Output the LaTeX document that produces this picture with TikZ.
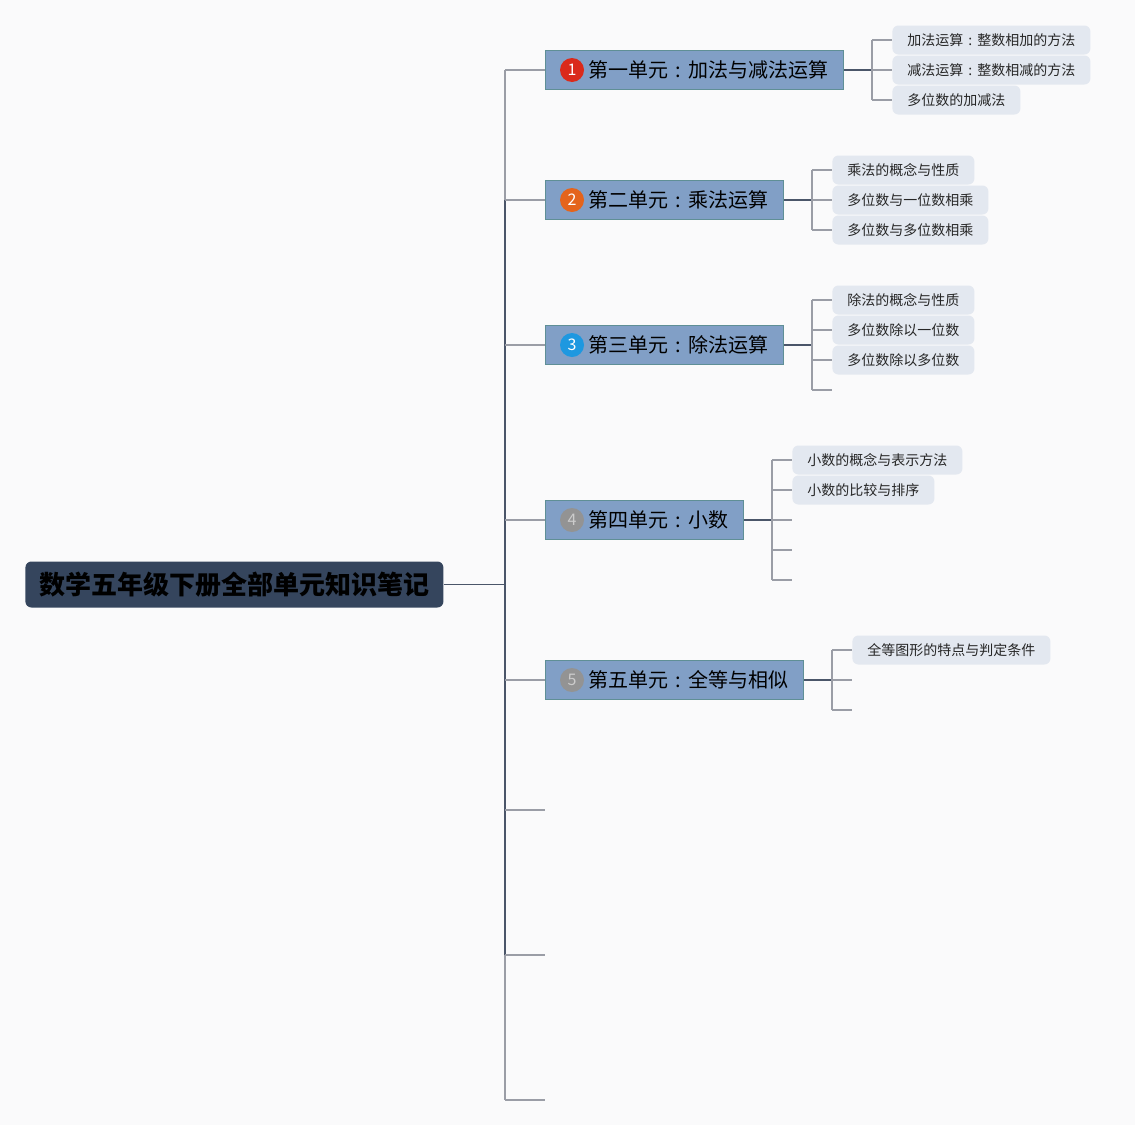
\documentclass[tikz,border=0pt]{standalone}
\usepackage{fontspec}
\setmainfont{Noto Sans CJK SC}
\usepackage{xcolor}
\usetikzlibrary{positioning,calc}
\definecolor{bgcol}{HTML}{FAFAFB}
\definecolor{rootcol}{HTML}{35455D}
\definecolor{unitcol}{HTML}{819FC6}
\definecolor{unitdraw}{HTML}{5F8F96}
\definecolor{leafcol}{HTML}{E3E8F0}
\definecolor{darkline}{HTML}{4A5569}
\definecolor{greyline}{HTML}{9A9DA6}
\definecolor{badgeA}{HTML}{DA2A1B}
\definecolor{badgeB}{HTML}{E4641C}
\definecolor{badgeC}{HTML}{1E98E0}
\newcommand{\colonc}{\makebox[1em]{:}}
\tikzset{
root/.style={fill=rootcol,rounded corners=3pt,anchor=west,minimum height=23pt,inner xsep=7pt,font=\fontsize{13pt}{15pt}\selectfont\bfseries,text=black},
unit/.style={draw=unitdraw,fill=unitcol,line width=0.5pt,anchor=west,minimum height=19.5pt,inner ysep=0pt,inner xsep=7.5pt,font=\fontsize{10pt}{12pt}\selectfont,text=black},
leaf/.style={fill=leafcol,rounded corners=3pt,anchor=west,minimum height=14.5pt,inner ysep=0pt,inner xsep=7.5pt,font=\fontsize{7pt}{8.5pt}\selectfont,text=black!85},
badge/.style={circle,inner sep=0pt,minimum size=12pt,font=\fontsize{8pt}{9pt}\selectfont,text=white},
dline/.style={darkline,line width=0.9pt},
gline/.style={greyline,line width=0.9pt}
}

\begin{document}
\begin{tikzpicture}[x=0.5pt,y=-0.5pt]
\fill[bgcol](0,0)rectangle(1135,1125);
\useasboundingbox(0,0)rectangle(1135,1125);
% root
\node[root](r)at(25,584.5){数学五年级下册全部单元知识笔记};
% units
\node[unit](u1)at(545,70){\hspace*{14pt}第一单元\colonc 加法与减法运算};
\node[unit](u2)at(545,200){\hspace*{14pt}第二单元\colonc 乘法运算};
\node[unit](u3)at(545,345){\hspace*{14pt}第三单元\colonc 除法运算};
\node[unit](u4)at(545,520){\hspace*{14pt}第四单元\colonc 小数};
\node[unit](u5)at(545,680){\hspace*{14pt}第五单元\colonc 全等与相似};
\node[badge,fill=badgeA]at($(u1.west)+(27,0)$){1};
\node[badge,fill=badgeB]at($(u2.west)+(27,0)$){2};
\node[badge,fill=badgeC]at($(u3.west)+(27,0)$){3};
\node[badge,fill=gray!85,text=gray!40]at($(u4.west)+(27,0)$){4};
\node[badge,fill=gray!85,text=gray!40]at($(u5.west)+(27,0)$){5};
% leaves
\node[leaf](l11)at(892,40){加法运算\colonc 整数相加的方法};
\node[leaf](l12)at(892,70){减法运算\colonc 整数相减的方法};
\node[leaf](l13)at(892,100){多位数的加减法};
\node[leaf](l21)at(832,170){乘法的概念与性质};
\node[leaf](l22)at(832,200){多位数与一位数相乘};
\node[leaf](l23)at(832,230){多位数与多位数相乘};
\node[leaf](l31)at(832,300){除法的概念与性质};
\node[leaf](l32)at(832,330){多位数除以一位数};
\node[leaf](l33)at(832,360){多位数除以多位数};
\node[leaf](l41)at(792,460){小数的概念与表示方法};
\node[leaf](l42)at(792,490){小数的比较与排序};
\node[leaf](l51)at(852,650){全等图形的特点与判定条件};
% empty ends
\coordinate(e34)at(832,390);
\coordinate(e43)at(792,520);
\coordinate(e44)at(792,550);
\coordinate(e45)at(792,580);
\coordinate(e52)at(852,680);
\coordinate(e53)at(852,710);
\coordinate(e6)at(545,810);
\coordinate(e7)at(545,955);
\coordinate(e8)at(545,1100);
% spine
\draw[dline](r.east)--(505,584.5);
\draw[gline](505,70)--(505,200);
\draw[dline](505,200)--(505,955);
\draw[gline](505,955)--(505,1100);
\foreach \n in {u1,u2,u3,u4,u5,e6,e7,e8} \draw[gline](505,0|-\n.west)--(\n.west);
% unit branches
\foreach \u/\x/\a/\b in {u1/872/40/100,u2/812/170/230,u3/812/300/390,u4/772/460/580,u5/832/650/710}{
\draw[dline](\u.east)--(\x,0|-\u.east);
\draw[gline](\x,\a)--(\x,\b);}
\foreach \x/\n in {872/l11,872/l12,872/l13,812/l21,812/l22,812/l23,812/l31,812/l32,812/l33,812/e34,772/l41,772/l42,772/e43,772/e44,772/e45,832/l51,832/e52,832/e53}
\draw[gline](\x,0|-\n.west)--(\n.west);
\end{tikzpicture}
\end{document}
